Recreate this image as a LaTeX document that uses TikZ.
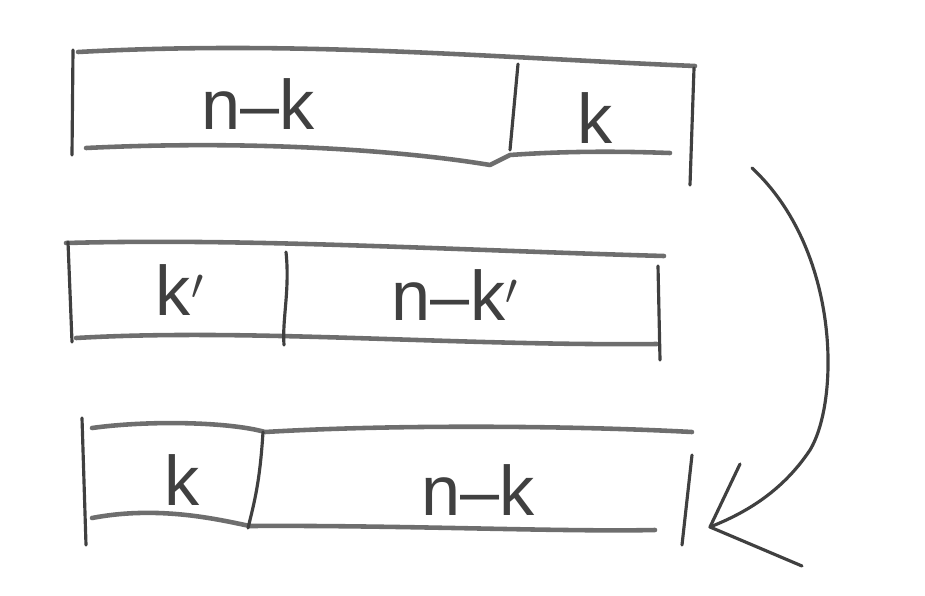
\documentclass[tikz,border=0pt]{standalone}
\usepackage{fontspec}
\setmainfont{Liberation Sans}
\usetikzlibrary{calc}
\definecolor{pencil}{HTML}{6E6E6E}
\definecolor{ink}{HTML}{404040}
\tikzset{
  sk/.style={draw=pencil, line width=2.6pt, line cap=round, line join=round},
  inkline/.style={draw=ink, line width=1.8pt, line cap=round, line join=round},
  lab/.style={text=ink, font=\fontsize{40}{46}\selectfont, inner sep=0pt}
}
\begin{document}
\begin{tikzpicture}[x=0.02cm,y=-0.02cm]
\useasboundingbox (0,0) rectangle (925,595);
% ---- bar 1 ----
\draw[sk] (78,52) .. controls (300,40) and (500,58) .. (695,66);
\draw[inkline] (73,50) -- (72,155);
\draw[sk] (86,148) .. controls (250,140) and (400,150) .. (490,165) -- (510,155) .. controls (580,150) and (640,152) .. (670,153);
\draw[inkline] (518,64) -- (510,150);
\draw[inkline] (694,68) -- (690,185);
\node[lab] (l1a) at (258,104) {n–k};
\node[lab] (l1b) at (595,118) {k};
% ---- bar 2 ----
\draw[sk] (66,243) .. controls (250,238) and (450,250) .. (664,256);
\draw[inkline] (68,242) -- (72,342);
\draw[sk] (76,338) .. controls (250,328) and (450,346) .. (657,344);
\draw[inkline] (286,252) .. controls (290,290) and (282,320) .. (284,345);
\draw[inkline] (658,266) -- (660,360);
\node[lab] (l2a) at (180,290) {k$'$};
\node[lab] (l2b) at (455,295) {n–k$'$};
% ---- bar 3 ----
\draw[sk] (92,428) .. controls (150,420) and (230,422) .. (265,432) .. controls (400,424) and (580,426) .. (692,432);
\draw[inkline] (82,418) -- (86,545);
\draw[sk] (92,518) .. controls (160,505) and (220,520) .. (250,526) .. controls (400,525) and (560,532) .. (655,530);
\draw[inkline] (263,432) .. controls (260,480) and (255,500) .. (248,528);
\draw[inkline] (692,455) -- (682,545);
\node[lab] (l3a) at (182,480) {k};
\node[lab] (l3b) at (478,490) {n–k};
% ---- arrow ----
\coordinate (s) at (752,168);
\coordinate (e) at (710,527);
\coordinate (h1) at (740,464);
\coordinate (h2) at (802,566);
\draw[inkline] (s) .. controls (840,250) and (840,400) .. (810,450) .. controls (780,495) and (740,515) .. (e);
\draw[inkline] (h1) -- (e) -- (h2);
\end{tikzpicture}
\end{document}
